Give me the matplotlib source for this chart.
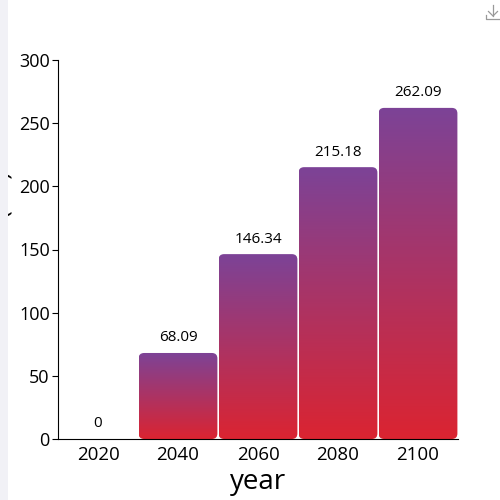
import matplotlib
matplotlib.use("Agg")
import matplotlib.pyplot as plt
import numpy as np
from matplotlib.patches import FancyBboxPatch, Rectangle
from matplotlib.colors import LinearSegmentedColormap
from matplotlib.lines import Line2D

years = ["2020", "2040", "2060", "2080", "2100"]
values = [0, 68.09, 146.34, 215.18, 262.09]
y_ticks = [0, 50, 100, 150, 200, 250, 300]

plt.rcParams['font.family'] = ['Open Sans', 'DejaVu Sans']

fig = plt.figure(figsize=(5, 5), dpi=100)
ax = fig.add_axes([0.116, 0.122, 0.8, 0.758])

x = np.arange(len(years))
bars = ax.bar(x, values, width=0.985, color='none')

ax.set_xlim(-0.5, len(years) - 0.5)
ax.set_ylim(0, 300)

# gradient purple (top) -> red (bottom), one per bar
cmap = LinearSegmentedColormap.from_list('grad', ['#db2431', '#7c4397'])
grad = np.linspace(0, 1, 256).reshape(-1, 1)

# pixel scale for rounded corners
px_x = 400 / len(years)      # pixels per x unit
px_y = 379 / 300             # pixels per y unit
radius = 5.5 / px_x
aspect = px_x / px_y

for rect, v in zip(bars, values):
    if v <= 0:
        continue
    bx, bw, bh = rect.get_x(), rect.get_width(), rect.get_height()
    patch = FancyBboxPatch((bx, 0), bw, bh,
                           boxstyle=f"round,pad=0,rounding_size={radius}",
                           mutation_aspect=aspect, facecolor='none',
                           edgecolor='none')
    ax.add_patch(patch)
    im = ax.imshow(grad, cmap=cmap, origin='lower', aspect='auto',
                   extent=(bx, bx + bw, 0, bh), zorder=2)
    im.set_clip_path(patch)

ax.set_xlim(-0.5, len(years) - 0.5)
ax.set_ylim(0, 300)

for xi, v in zip(x, values):
    ax.text(xi, v + 6, f"{v:g}" if v else "0", ha='center', va='bottom',
            fontsize=11)

ax.set_xticks(x)
ax.set_xticklabels(years, fontsize=13.5)
ax.set_yticks(y_ticks)
ax.tick_params(axis='y', labelsize=13, length=4, pad=2)
ax.tick_params(axis='x', length=0, pad=5)
ax.spines['top'].set_visible(False)
ax.spines['right'].set_visible(False)

ax.set_xlabel('year', fontsize=20, labelpad=3)

# y label mostly cut off at the left edge
fig.text(14 / 500, 0.5, 'emission (Mt)', rotation=90, ha='right',
         va='center', fontsize=18)
fig.patches.append(Rectangle((0, 0), 8 / 500, 1, transform=fig.transFigure,
                             facecolor='#f1f1f6', edgecolor='none', zorder=5))

# download icon at top right, drawn as lines
def fpt(px, py):
    return px / 500, 1 - py / 500

icon = [
    [(493, 5), (493, 16)],
    [(488.5, 11.5), (493, 16), (497.5, 11.5)],
    [(486, 15), (486, 19), (500, 19)],
]
for seg in icon:
    xs, ys = zip(*[fpt(*p) for p in seg])
    fig.add_artist(Line2D(xs, ys, color='#999999', lw=0.9,
                          transform=fig.transFigure))

fig.savefig('out.png', dpi=100)
